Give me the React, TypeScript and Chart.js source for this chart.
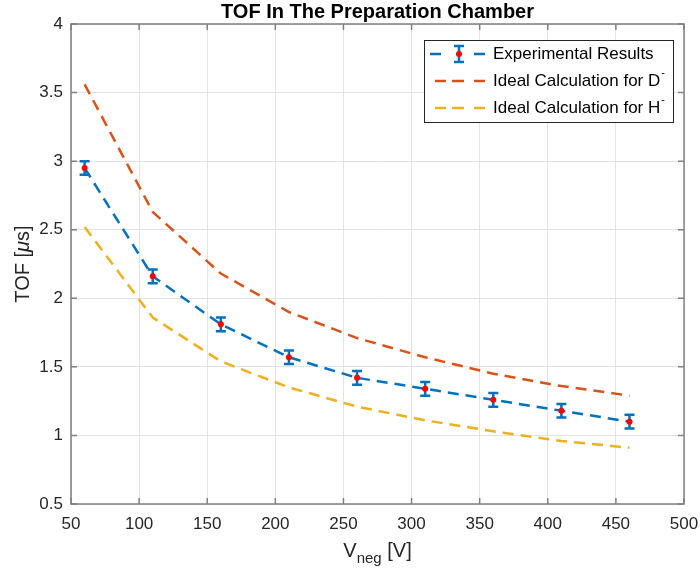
import React, { useEffect, useRef } from "react";
import { Chart, registerables } from "chart.js";

Chart.register(...registerables);

// ---- data ----
const voltages = [60, 110, 160, 210, 260, 310, 360, 410, 460];
const experimental = [2.95, 2.16, 1.81, 1.57, 1.42, 1.34, 1.26, 1.18, 1.1];
const experimentalError = [0.05, 0.05, 0.05, 0.05, 0.05, 0.05, 0.05, 0.05, 0.05];
const idealD = [3.56, 2.63, 2.18, 1.9, 1.71, 1.57, 1.45, 1.36, 1.29];
const idealH = [2.52, 1.86, 1.54, 1.35, 1.21, 1.11, 1.03, 0.96, 0.91];
const legendLabels = ["Experimental Results", "Ideal Calculation for D", "Ideal Calculation for H"];
const legendSuperscripts = ["", "-", "-"];
const titleText = "TOF In The Preparation Chamber";

const BLUE = "#0072BD";
const ORANGE = "#D95319";
const YELLOW = "#EDB120";
const RED = "#FF0000";
const AXIS = "#808080";
const TEXT = "#262626";
const FONT = "'Liberation Sans', Arial, Helvetica, sans-serif";
const DASH = [11, 7];

const decor = {
  id: "decor",
  beforeDatasetsDraw(chart: any) {
    const { ctx, scales } = chart;
    const x = scales.x;
    const y = scales.y;
    ctx.save();
    ctx.strokeStyle = BLUE;
    ctx.lineWidth = 2.5;
    ctx.setLineDash([]);
    voltages.forEach((v, i) => {
      const px = x.getPixelForValue(v);
      const top = y.getPixelForValue(experimental[i] + experimentalError[i]);
      const bot = y.getPixelForValue(experimental[i] - experimentalError[i]);
      ctx.beginPath();
      ctx.moveTo(px, top);
      ctx.lineTo(px, bot);
      ctx.moveTo(px - 5, top);
      ctx.lineTo(px + 5, top);
      ctx.moveTo(px - 5, bot);
      ctx.lineTo(px + 5, bot);
      ctx.stroke();
    });
    ctx.restore();
  },
  afterDraw(chart: any) {
    const { ctx, chartArea, scales } = chart;
    const { left, right, top, bottom } = chartArea;
    const x = scales.x;
    const y = scales.y;
    ctx.save();
    ctx.setLineDash([]);
    // box
    ctx.strokeStyle = AXIS;
    ctx.lineWidth = 1.5;
    ctx.strokeRect(left, top, right - left, bottom - top);
    // inward ticks
    ctx.beginPath();
    x.ticks.forEach((t: any) => {
      const px = x.getPixelForValue(t.value);
      ctx.moveTo(px, bottom);
      ctx.lineTo(px, bottom - 6);
      ctx.moveTo(px, top);
      ctx.lineTo(px, top + 6);
    });
    y.ticks.forEach((t: any) => {
      const py = y.getPixelForValue(t.value);
      ctx.moveTo(left, py);
      ctx.lineTo(left + 6, py);
      ctx.moveTo(right, py);
      ctx.lineTo(right - 6, py);
    });
    ctx.stroke();

    // title
    ctx.fillStyle = "#000";
    ctx.font = `bold 20px ${FONT}`;
    ctx.textAlign = "center";
    ctx.textBaseline = "middle";
    ctx.fillText(titleText, (left + right) / 2, 12);

    // x label: V_neg [V]
    ctx.fillStyle = TEXT;
    ctx.textAlign = "left";
    ctx.textBaseline = "alphabetic";
    ctx.font = `20px ${FONT}`;
    const wV = ctx.measureText("V").width;
    const wRest = ctx.measureText(" [V]").width;
    ctx.font = `15px ${FONT}`;
    const wSub = ctx.measureText("neg").width;
    const sx = (left + right) / 2 - (wV + wSub + wRest) / 2;
    ctx.font = `20px ${FONT}`;
    ctx.fillText("V", sx, 557);
    ctx.font = `15px ${FONT}`;
    ctx.fillText("neg", sx + wV, 563);
    ctx.font = `20px ${FONT}`;
    ctx.fillText(" [V]", sx + wV + wSub, 557);

    // y label: TOF [μs]
    ctx.save();
    ctx.translate(29, (top + bottom) / 2);
    ctx.rotate(-Math.PI / 2);
    ctx.font = `20px ${FONT}`;
    const p1 = "TOF [";
    const p3 = "s]";
    const w1 = ctx.measureText(p1).width;
    const w3 = ctx.measureText(p3).width;
    ctx.font = `italic 20px ${FONT}`;
    const w2 = ctx.measureText("μ").width;
    const ly = -(w1 + w2 + w3) / 2;
    ctx.font = `20px ${FONT}`;
    ctx.fillText(p1, ly, 0);
    ctx.font = `italic 20px ${FONT}`;
    ctx.fillText("μ", ly + w1, 0);
    ctx.font = `20px ${FONT}`;
    ctx.fillText(p3, ly + w1 + w2, 0);
    ctx.restore();

    // legend
    const lx = right - 260;
    const ly0 = top + 16;
    const lw = 249;
    const lh = 82;
    ctx.fillStyle = "#fff";
    ctx.fillRect(lx, ly0, lw, lh);
    ctx.strokeStyle = TEXT;
    ctx.lineWidth = 1;
    ctx.strokeRect(lx + 0.5, ly0 + 0.5, lw, lh);
    const rows = [ly0 + 14, ly0 + 41, ly0 + 68];
    const colors = [BLUE, ORANGE, YELLOW];
    rows.forEach((ry, i) => {
      ctx.strokeStyle = colors[i];
      ctx.lineWidth = 2.5;
      ctx.beginPath();
      if (i === 0) {
        ctx.moveTo(lx + 6, ry);
        ctx.lineTo(lx + 17, ry);
        ctx.moveTo(lx + 50, ry);
        ctx.lineTo(lx + 61, ry);
        const cx = lx + 35;
        ctx.moveTo(cx, ry - 8);
        ctx.lineTo(cx, ry + 8);
        ctx.moveTo(cx - 5, ry - 8);
        ctx.lineTo(cx + 5, ry - 8);
        ctx.moveTo(cx - 5, ry + 8);
        ctx.lineTo(cx + 5, ry + 8);
        ctx.stroke();
        ctx.fillStyle = RED;
        ctx.beginPath();
        ctx.arc(cx, ry, 3, 0, Math.PI * 2);
        ctx.fill();
      } else {
        ctx.moveTo(lx + 11, ry);
        ctx.lineTo(lx + 22, ry);
        ctx.moveTo(lx + 28, ry);
        ctx.lineTo(lx + 40, ry);
        ctx.moveTo(lx + 50, ry);
        ctx.lineTo(lx + 61, ry);
        ctx.stroke();
      }
      ctx.fillStyle = "#000";
      ctx.font = `17px ${FONT}`;
      ctx.textAlign = "left";
      ctx.textBaseline = "middle";
      const tx = lx + 69;
      ctx.fillText(legendLabels[i], tx, ry);
      if (legendSuperscripts[i]) {
        const w = ctx.measureText(legendLabels[i]).width;
        ctx.font = `11px ${FONT}`;
        ctx.fillText(legendSuperscripts[i], tx + w + 1, ry - 8);
      }
    });
    ctx.restore();
  },
};

export default function App() {
  const ref = useRef<HTMLCanvasElement | null>(null);
  useEffect(() => {
    if (!ref.current) return;
    const chart = new Chart(ref.current, {
      type: "line",
      data: {
        datasets: [
          {
            label: "points",
            data: voltages.map((v, i) => ({ x: v, y: experimental[i] })),
            showLine: false,
            pointRadius: 3,
            pointBackgroundColor: RED,
            pointBorderWidth: 0,
            borderColor: RED,
          },
          {
            label: legendLabels[0],
            data: voltages.map((v, i) => ({ x: v, y: experimental[i] })),
            borderColor: BLUE,
            borderWidth: 2.5,
            borderDash: DASH,
            pointRadius: 0,
            tension: 0,
          },
          {
            label: legendLabels[1],
            data: voltages.map((v, i) => ({ x: v, y: idealD[i] })),
            borderColor: ORANGE,
            borderWidth: 2.5,
            borderDash: DASH,
            pointRadius: 0,
            tension: 0,
          },
          {
            label: legendLabels[2],
            data: voltages.map((v, i) => ({ x: v, y: idealH[i] })),
            borderColor: YELLOW,
            borderWidth: 2.5,
            borderDash: DASH,
            pointRadius: 0,
            tension: 0,
          },
        ],
      },
      options: {
        responsive: false,
        animation: false,
        devicePixelRatio: 1,
        layout: { padding: { top: 24, right: 16, left: 0, bottom: 0 } },
        plugins: {
          legend: { display: false },
          tooltip: { enabled: false },
          title: { display: false },
        },
        scales: {
          x: {
            type: "linear",
            min: 50,
            max: 500,
            ticks: {
              stepSize: 50,
              color: TEXT,
              font: { family: FONT, size: 17 },
              padding: 10,
              maxRotation: 0,
            },
            grid: { color: "#e3e3e3", lineWidth: 1, drawTicks: false },
            border: { display: false },
            afterFit: (s: any) => {
              s.height = 73;
              s.paddingLeft = 0;
              s.paddingRight = 0;
            },
          },
          y: {
            type: "linear",
            min: 0.5,
            max: 4,
            ticks: {
              stepSize: 0.5,
              color: TEXT,
              font: { family: FONT, size: 17 },
              padding: 8,
              callback: (v: any) => String(Number(v)),
            },
            grid: { color: "#e3e3e3", lineWidth: 1, drawTicks: false },
            border: { display: false },
            afterFit: (s: any) => {
              s.width = 71;
              s.paddingTop = 0;
              s.paddingBottom = 0;
            },
          },
        },
      },
      plugins: [decor],
    });
    return () => chart.destroy();
  }, []);
  return (
    <div style={{ position: "fixed", left: 0, top: 0, width: 700, height: 577, background: "#fff" }}>
      <canvas ref={ref} width={700} height={577} style={{ width: 700, height: 577 }} />
    </div>
  );
}
